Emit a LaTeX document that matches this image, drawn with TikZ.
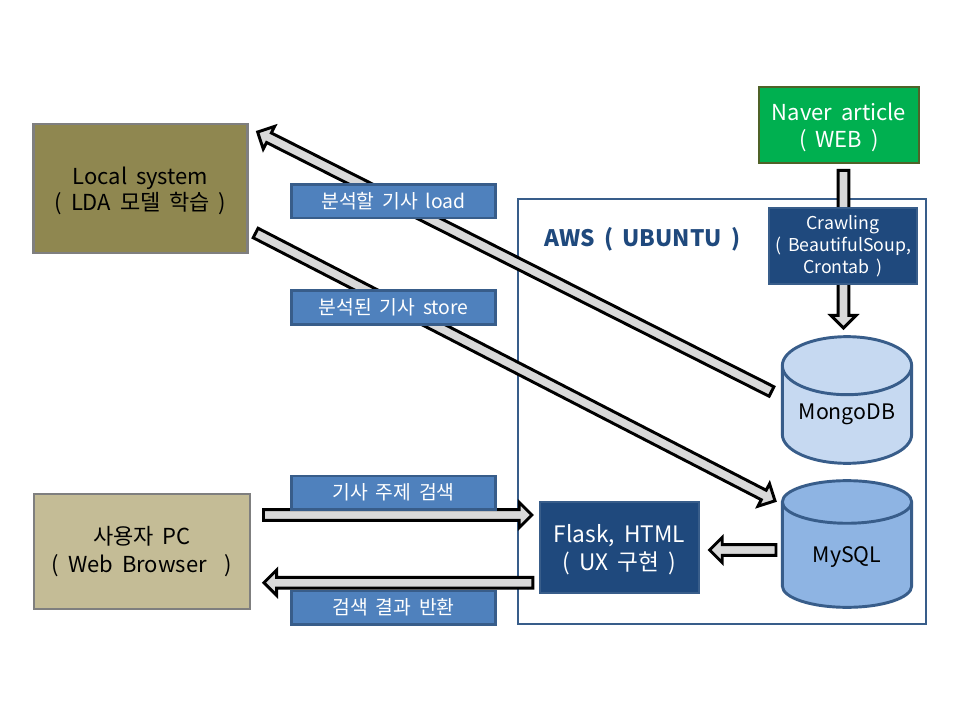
\documentclass[tikz,border=0pt]{standalone}
\usepackage{fontspec}
\setmainfont{Noto Sans CJK KR}[WordSpace=1.8]
\definecolor{frameblue}{RGB}{56, 93, 138}
\definecolor{navyfill}{RGB}{31, 73, 125}
\definecolor{labelfill}{RGB}{79, 129, 189}
\definecolor{mongofill}{RGB}{198, 217, 241}
\definecolor{mysqlfill}{RGB}{142, 180, 227}
\definecolor{localfill}{RGB}{143, 135, 80}
\definecolor{pcfill}{RGB}{196, 188, 150}
\definecolor{webfill}{RGB}{0, 176, 80}
\definecolor{webframe}{RGB}{79, 98, 40}
\definecolor{hostframe}{RGB}{127, 127, 127}
\definecolor{arrowfill}{RGB}{217, 217, 217}
\usetikzlibrary{shapes.geometric, calc}
\newcommand{\topstrut}{\rule{0pt}{16.5pt}}
\tikzset{
    host/.style={rectangle, align=center, draw=hostframe, line width=2.2pt, font=\fontsize{16.5}{20}\selectfont},
    webbox/.style={rectangle, align=center, draw=webframe, fill=webfill, line width=2.2pt, text=white, font=\fontsize{16.5}{20}\selectfont},
    service/.style={rectangle, align=center, draw=frameblue, fill=navyfill, line width=1.9pt, text=white},
    caption/.style={rectangle, align=center, draw=frameblue, fill=labelfill, line width=2pt, text=white, minimum width=153pt, minimum height=25pt, font=\fontsize{14.5}{15}\selectfont},
    database/.style={cylinder, shape border rotate=90, aspect=0.55, draw=frameblue, line width=2.2pt, minimum width=97pt, minimum height=95pt, cylinder uses custom fill, anchor=shape center, font=\fontsize{16}{15}\selectfont},
    blockarrow/.style={draw=black, line width=2.2pt, fill=arrowfill, to path={
        coordinate (headbase) at ($(\tikztotarget)!9.5pt!(\tikztostart)$)
        ($(\tikztostart)!4pt!90:(\tikztotarget)$)
        -- ($(headbase)!4pt!-90:(\tikztostart)$) -- ($(headbase)!9.5pt!-90:(\tikztostart)$)
        -- (\tikztotarget)
        -- ($(headbase)!9.5pt!90:(\tikztostart)$) -- ($(headbase)!4pt!90:(\tikztostart)$)
        -- ($(\tikztostart)!4pt!-90:(\tikztotarget)$) -- cycle}}
}
\begin{document}
\begin{tikzpicture}[x=0.75pt, y=-0.75pt]
    \useasboundingbox (0,0) rectangle (960,720);
    \node[rectangle, draw=frameblue, fill=white, line width=2.2pt, minimum width=306pt, minimum height=318.75pt] (aws) at (722,411.5) {};
    \node[anchor=west, text=navyfill, font=\fontsize{17}{18}\selectfont\bfseries] (awstitle) at (539.5,239.5) {AWS ( UBUNTU )};
    \node[host, fill=localfill, minimum width=160pt, minimum height=96.75pt] (local) at (140.5,188.5) {\topstrut Local system\\( LDA 모델 학습 )};
    \node[host, fill=pcfill, minimum width=162pt, minimum height=86.25pt] (pc) at (142,551.5) {사용자 PC\\[1pt]( Web Browser\ \ )};
    \node[webbox, minimum width=120pt, minimum height=57pt] (web) at (839,125) {\topstrut Naver article\\( WEB )};
    \node[database, text depth=13.5pt, cylinder body fill=mongofill, cylinder end fill=mongofill] (mongodb) at (847,400) {MongoDB};
    \node[database, text depth=7pt, cylinder body fill=mysqlfill, cylinder end fill=mysqlfill] (mysql) at (847,544) {MySQL};
    \node[service, minimum width=119pt, minimum height=68pt, font=\fontsize{17}{21}\selectfont] (flask) at (619.5,547.5) {\topstrut Flask, HTML\\( UX 구현 )};
    % block arrows go under the captions
    \draw[blockarrow] ([shift={(4.5,6)}]web.south) to ([shift={(-3.5,-72)}]mongodb.shape center);
    \draw[blockarrow] ([shift={(-75.5,-8.5)}]mongodb.shape center) to ([shift={(9,-56.5)}]local.east);
    \draw[blockarrow] ([shift={(7,44.5)}]local.east) to ([shift={(-72,-43.2)}]mysql.shape center);
    \draw[blockarrow] ([shift={(12,-36.5)}]pc.east) to ([shift={(-7,-32.5)}]flask.west);
    \draw[blockarrow] ([shift={(-6,35.2)}]flask.west) to ([shift={(12.5,31.2)}]pc.east);
    \draw[blockarrow] ([shift={(-71,6)}]mysql.shape center) to ([shift={(9.5,2.5)}]flask.east);
    \node[service, minimum width=111pt, minimum height=57pt, font=\fontsize{13.3}{16.5}\selectfont] (crawl) at (843,246) {Crawling\\( BeautifulSoup,\\Crontab )};
    \node[caption] (loadlabel) at (393.5,201.5) {분석할 기사 load};
    \node[caption] (storelabel) at (393.5,307.5) {분석된 기사 store};
    \node[caption] (searchlabel) at (393.5,492.5) {기사 주제 검색};
    \node[caption] (resultlabel) at (393.5,607.5) {검색 결과 반환};
\end{tikzpicture}
\end{document}
